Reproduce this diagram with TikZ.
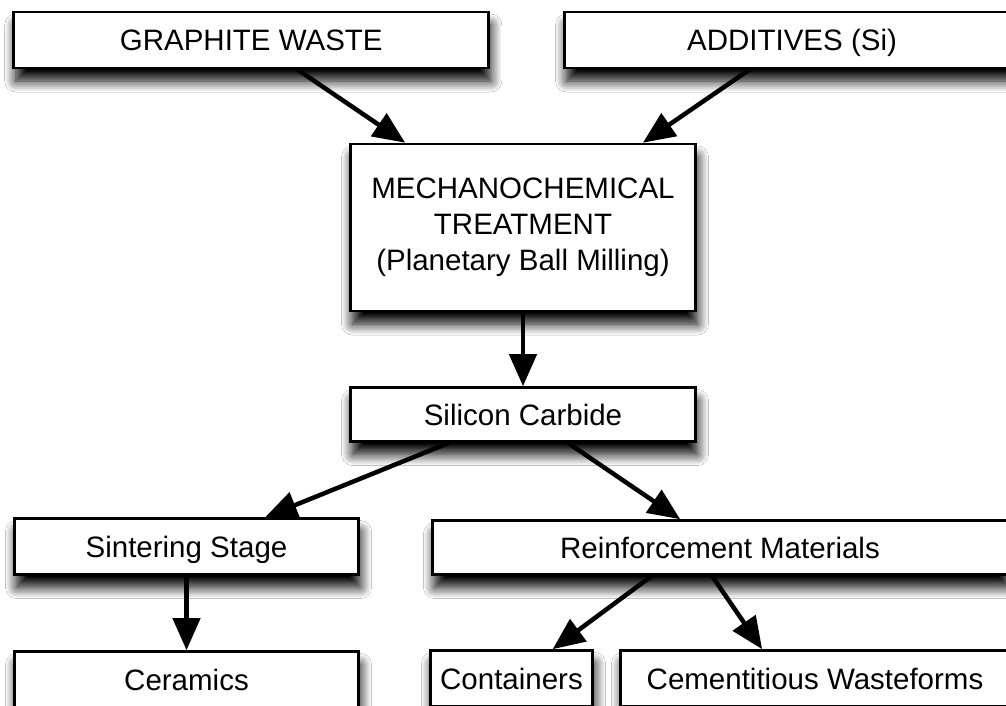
\documentclass[tikz,border=0pt]{standalone}
\usepackage{fontspec}
\setmainfont{Liberation Sans}
\usetikzlibrary{arrows.meta,calc,shadows.blur}
\tikzset{
  box/.style={draw=black, line width=2.6pt, fill=white, inner sep=0pt, align=center,
    font=\fontsize{29.5}{36}\selectfont,
    blur shadow={shadow xshift=2pt, shadow yshift=-13pt, shadow blur radius=11pt, shadow opacity=100, shadow blur steps=12}},
  oneline/.style={text height=21pt, text depth=0pt},
  conn/.style={line width=4.5pt, -{Triangle[length=32pt,width=27pt]}}
}
\begin{document}
\begin{tikzpicture}[x=1pt,y=-1pt]
\useasboundingbox (0,0) rectangle (1006,706);
\clip (0,0) rectangle (1006,706);
\fill[white] (0,0) rectangle (1006,706);
\node[box, oneline, minimum width=475pt, minimum height=56pt] (g) at (251.25,40) {GRAPHITE WASTE};
\node[box, oneline, minimum width=455pt, minimum height=56pt] (a) at (792,40) {ADDITIVES (Si)};
\node[box, minimum width=345pt, minimum height=167pt] (m) at (523,227.5) {MECHANOCHEMICAL\\TREATMENT\\(Planetary Ball Milling)};
\node[box, oneline, minimum width=345pt, minimum height=54pt] (s) at (523,414.5) {Silicon Carbide};
\node[box, oneline, minimum width=344pt, minimum height=56pt] (si) at (186.5,546.5) {Sintering Stage};
\node[box, oneline, minimum width=575pt, minimum height=54pt] (r) at (720,547.5) {Reinforcement Materials};
\node[box, oneline, minimum width=344pt, minimum height=56pt] (ce) at (186.5,679.5) {Ceramics};
\node[box, oneline, minimum width=162pt, minimum height=56pt] (co) at (511.5,678.5) {Containers};
\node[box, oneline, minimum width=389pt, minimum height=56pt] (cw) at (815,678.5) {Cementitious Wasteforms};

\draw[conn] ($(g.south west)!0.596!(g.south east)$) -- ($(m.north west)!0.161!(m.north east)$);
\draw[conn] ($(a.south west)!0.408!(a.south east)$) -- ($(m.north west)!0.845!(m.north east)$);
\draw[conn] (m.south) -- (s.north);
\draw[conn] ($(s.south west)!0.287!(s.south east)$) -- ($(si.north west)!0.727!(si.north east)$);
\draw[conn] ($(s.south west)!0.629!(s.south east)$) -- ($(r.north west)!0.431!(r.north east)$);
\draw[conn] (si.south) -- (ce.north);
\draw[conn] ($(r.south west)!0.382!(r.south east)$) -- ($(co.north west)!0.75!(co.north east)$);
\draw[conn] ($(r.south west)!0.486!(r.south east)$) -- ($(cw.north west)!0.365!(cw.north east)$);
\end{tikzpicture}
\end{document}
